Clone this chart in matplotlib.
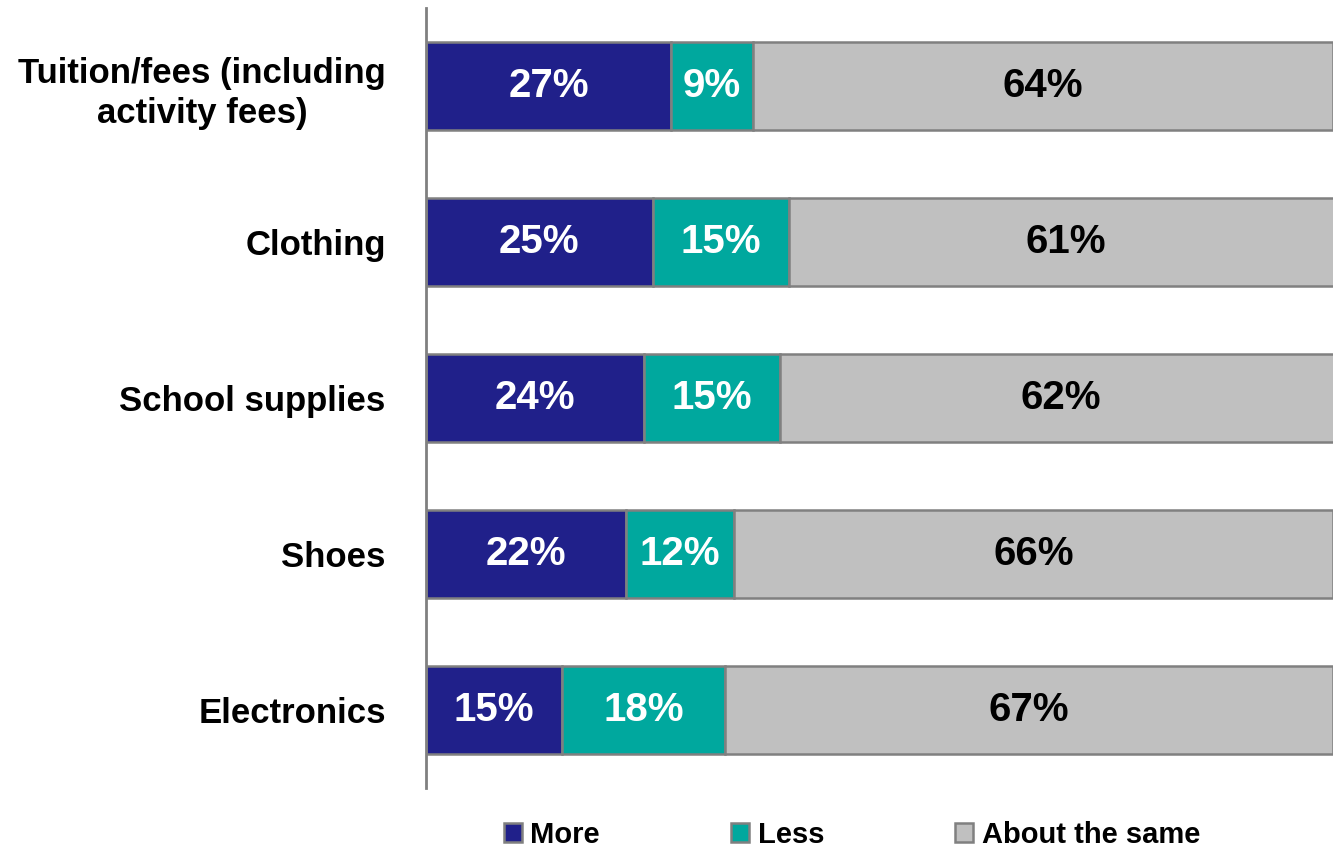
import matplotlib.pyplot as plt
import numpy as np

# survey data: spending compared to last year
categories = ["Tuition/fees (including\nactivity fees)", "Clothing", "School supplies", "Shoes", "Electronics"]
more = [27, 25, 24, 22, 15]
less = [9, 15, 15, 12, 18]
same = [64, 61, 62, 66, 67]
series_names = ["More", "Less", "About the same"]

colors = ["#20208a", "#00a89e", "#c0c0c0"]
text_colors = ["white", "white", "black"]
font = ["Liberation Sans Narrow", "Liberation Sans", "DejaVu Sans"]

fig = plt.figure(figsize=(13.33, 8.51), dpi=100)
ax = fig.add_axes([0.3196, 0.074, 0.6804, 0.9166])

y = np.arange(len(categories))
left = np.zeros(len(categories))
for vals, col, tcol, name in zip([more, less, same], colors, text_colors, series_names):
    bars = ax.barh(y, vals, left=left, height=0.57, color=col, edgecolor="#808080",
                   linewidth=1.8, label=name)
    for b, v in zip(bars, vals):
        cx = b.get_x() + b.get_width() / 2
        ax.text(cx, b.get_y() + b.get_height() / 2, f"{v}%", ha="center", va="center",
                color=tcol, fontsize=29, fontweight="bold", family=font)
    left += np.array(vals)

ax.set_xlim(0, 100)
ax.set_ylim(len(categories) - 0.5, -0.5)
ax.set_xticks([])
ax.set_yticks(y)
ax.set_yticklabels(categories, fontsize=25, fontweight="bold", family=font,
                   multialignment="center", linespacing=1.3)
ax.tick_params(axis="y", length=0, pad=29)
for s in ["top", "right", "bottom"]:
    ax.spines[s].set_visible(False)
ax.spines["left"].set_color("#808080")
ax.spines["left"].set_linewidth(2)

handles, labels = ax.get_legend_handles_labels()
fig.legend(handles, labels, loc="center", bbox_to_anchor=(852 / 1333, 1 - 835 / 851), ncol=3,
           frameon=False, prop={"family": font, "weight": "bold", "size": 21},
           handlelength=0.6, handleheight=0.6, handletextpad=0.3, columnspacing=4.5)

fig.savefig("out.png", dpi=100)
